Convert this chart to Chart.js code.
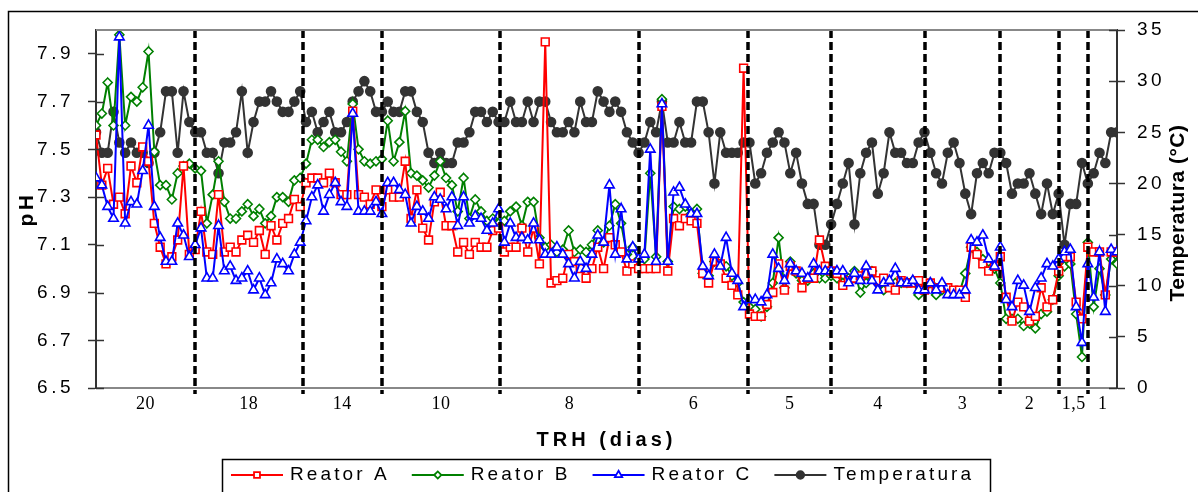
<!DOCTYPE html>
<html>
<head>
<meta charset="utf-8">
<script src="https://cdn.jsdelivr.net/npm/chart.js@4.4.1/dist/chart.umd.min.js"></script>
<style>
  html, body { margin: 0; padding: 0; background: #fff; }
  #wrap { width: 1198px; height: 492px; position: relative; overflow: hidden; }
</style>
</head>
<body>
<div id="wrap"><canvas id="phChart" width="1198" height="492"></canvas></div>
<script>
// TRH sections (dias) and the sample index where each one ends
const sectionLabels = ["20", "18", "14", "10", "8", "6", "5", "4", "3", "2", "1,5", "1"];
const sectionBounds = [17, 35.4, 49, 69.3, 93, 111.8, 126, 142.1, 154.9, 165.1, 170.1];

const phTicks = [6.5, 6.7, 6.9, 7.1, 7.3, 7.5, 7.7, 7.9];
const tempTicks = [0, 5, 10, 15, 20, 25, 30, 35];

const reatorA = [
  7.56,7.35,7.42,7.27,7.30,7.23,7.43,7.36,7.51,7.45,
  7.19,7.09,7.02,7.05,7.12,7.43,7.06,7.08,7.24,7.07,
  7.06,7.31,7.07,7.09,7.07,7.12,7.14,7.11,7.16,7.06,
  7.18,7.12,7.19,7.21,7.29,7.26,7.36,7.38,7.38,7.36,
  7.40,7.36,7.31,7.31,7.66,7.31,7.30,7.27,7.33,7.26,
  7.33,7.30,7.30,7.45,7.21,7.33,7.17,7.12,7.28,7.32,
  7.18,7.18,7.07,7.11,7.06,7.11,7.09,7.09,7.16,7.17,
  7.07,7.09,7.09,7.17,7.07,7.17,7.02,7.95,6.94,6.95,
  6.96,7.06,7.03,7.00,6.96,7.00,7.09,7.00,7.13,7.10,
  7.07,6.99,7.02,7.00,7.00,7.00,7.00,7.68,6.99,7.21,
  7.18,7.21,7.20,7.19,6.98,6.94,7.03,7.02,6.96,6.93,
  6.89,7.84,6.81,6.80,6.80,6.85,6.90,7.02,6.91,7.01,
  6.99,6.92,6.96,6.96,7.12,7.01,6.99,6.98,6.93,6.95,
  6.96,6.97,6.98,6.99,6.95,6.96,6.92,6.91,6.95,6.94,
  6.94,6.95,6.91,6.94,6.92,6.92,6.92,6.91,6.91,6.88,
  7.09,7.06,7.02,6.99,7.01,7.05,6.88,6.78,6.86,6.84,
  6.78,6.80,6.92,6.84,6.87,6.99,7.05,7.05,6.86,6.79,
  7.09,7.07,7.07,6.89,7.07,7.07
];
const reatorB = [
  7.60,7.65,7.78,7.60,7.98,7.60,7.72,7.70,7.76,7.91,
  7.49,7.35,7.35,7.29,7.40,7.43,7.44,7.42,7.41,7.19,
  7.31,7.45,7.28,7.21,7.21,7.24,7.27,7.22,7.25,7.19,
  7.22,7.30,7.30,7.28,7.37,7.38,7.44,7.54,7.54,7.51,
  7.53,7.54,7.49,7.45,7.69,7.50,7.45,7.44,7.45,7.46,
  7.62,7.45,7.53,7.66,7.40,7.39,7.37,7.34,7.39,7.45,
  7.38,7.35,7.24,7.38,7.21,7.29,7.24,7.20,7.21,7.19,
  7.20,7.24,7.26,7.18,7.28,7.28,7.13,7.09,7.10,7.07,
  7.08,7.16,7.07,7.08,7.07,7.10,7.16,7.11,7.18,7.27,
  7.19,7.06,7.09,7.04,7.04,7.40,7.05,7.71,7.03,7.26,
  7.25,7.26,7.23,7.25,6.98,6.97,7.03,7.02,7.01,6.97,
  6.94,6.86,6.84,6.83,6.80,6.84,6.94,7.13,6.92,7.03,
  6.98,6.95,6.95,6.98,6.96,6.96,6.97,6.96,6.94,6.96,
  6.99,6.90,6.94,6.99,6.94,6.91,6.93,6.94,6.94,6.94,
  6.95,6.89,6.92,6.94,6.89,6.91,6.91,6.90,6.90,6.98,
  7.09,7.07,7.04,7.03,7.00,6.94,6.79,6.79,6.79,6.76,
  6.77,6.75,6.81,6.82,6.87,6.97,7.01,7.02,6.81,6.63,
  7.11,6.84,7.00,6.89,7.04,7.02
];
const reatorC = [
  7.38,7.35,7.26,7.21,7.97,7.19,7.28,7.27,7.41,7.60,
  7.26,7.13,7.03,7.03,7.19,7.14,7.05,7.10,7.17,6.96,
  6.96,7.18,6.99,7.01,6.95,6.96,6.99,6.91,6.96,6.89,
  6.94,7.04,7.02,6.99,7.06,7.11,7.20,7.30,7.35,7.24,
  7.31,7.36,7.28,7.26,7.65,7.24,7.24,7.24,7.28,7.23,
  7.36,7.36,7.33,7.31,7.19,7.26,7.24,7.21,7.30,7.29,
  7.25,7.30,7.18,7.30,7.19,7.22,7.21,7.16,7.19,7.25,
  7.11,7.19,7.13,7.13,7.12,7.19,7.12,7.06,7.06,7.09,
  7.06,7.02,6.96,7.03,7.00,7.06,7.14,7.11,7.35,7.06,
  7.25,7.04,7.09,7.04,7.06,7.50,7.03,7.69,7.03,7.32,
  7.34,7.27,7.23,7.23,7.01,6.97,7.06,7.01,7.13,6.98,
  6.95,6.84,6.87,6.87,6.86,6.89,7.06,7.00,6.95,7.02,
  6.99,6.98,6.96,7.02,6.99,6.99,6.99,6.99,6.99,6.94,
  6.98,6.95,7.01,6.95,6.91,6.94,6.95,7.00,6.94,6.94,
  6.95,6.91,6.91,6.94,6.91,6.94,6.89,6.89,6.89,6.91,
  7.12,7.11,7.14,7.04,7.01,7.09,6.87,6.84,6.95,6.93,
  6.82,6.92,6.96,7.02,7.01,7.04,7.07,7.08,6.84,6.69,
  7.02,6.88,7.07,6.82,7.08,7.07
];
const temperatura = [
  25,23,23,27,24,23,24,23,23,22,
  23,25,29,29,23,29,26,25,25,23,
  23,21,24,24,25,29,23,26,28,28,
  29,28,27,27,28,29,26,27,25,26,
  27,25,25,26,28,29,30,29,27,27,
  28,27,27,29,29,27,26,23,22,23,
  22,22,24,24,25,27,27,26,27,26,
  26,28,26,26,28,26,28,28,26,25,
  25,26,25,28,26,26,29,28,27,28,
  27,25,24,23,24,26,25,28,24,24,
  26,24,24,28,28,25,20,25,23,23,
  23,24,24,20,21,23,24,25,24,21,
  23,20,18,18,14,14,16,18,20,22,
  16,21,23,24,19,21,25,23,23,22,
  22,24,25,23,21,20,23,24,22,19,
  17,21,22,21,23,23,22,19,20,20,
  21,19,17,20,17,19,14,18,18,22,
  20,21,23,22,25,25
];

const lastIndex = reatorA.length - 1;
const edges = [0, ...sectionBounds, lastIndex];
const sectionMids = sectionLabels.map((_, i) => (edges[i] + edges[i + 1]) / 2);

const FONT = "'Liberation Sans', Arial, sans-serif";
const SERIF = "'Liberation Serif', 'Times New Roman', serif";

const series = [
  { label: "Reator A", data: reatorA, color: "#ff0000", style: "rect", r: 5.5, lr: 4.2, axis: "y", order: 1, fill: "#ffffff" },
  { label: "Reator B", data: reatorB, color: "#008000", style: "rectRot", r: 4.5, lr: 3.6, axis: "y", order: 2, fill: "#ffffff" },
  { label: "Reator C", data: reatorC, color: "#0000ff", style: "triangle", r: 5.5, lr: 4.2, axis: "y", order: 0, fill: "#ffffff" },
  { label: "Temperatura", data: temperatura, color: "#333333", style: "circle", r: 4.5, lr: 3.8, axis: "y2", order: 3, fill: "#333333" }
];

const toPoints = arr => arr.map((v, i) => ({ x: i, y: v }));

const decor = {
  id: "decor",
  beforeDraw(chart) {
    chart.ctx.letterSpacing = "3.5px";
  },
  afterDatasetsDraw(chart) {
    const { ctx, chartArea: a, scales: { x } } = chart;
    ctx.save();
    ctx.strokeStyle = "#000";
    ctx.lineWidth = 3.5;
    ctx.setLineDash([8, 4]);
    sectionBounds.forEach(b => {
      const px = Math.round(x.getPixelForValue(b));
      ctx.beginPath();
      ctx.moveTo(px, a.top);
      ctx.lineTo(px, a.bottom + 6);
      ctx.stroke();
    });
    ctx.restore();
  },
  afterDraw(chart) {
    const { ctx, chartArea: a, scales: { x, y, y2 } } = chart;
    ctx.save();

    // top border of plot
    ctx.strokeStyle = "#888";
    ctx.lineWidth = 2;
    ctx.beginPath();
    ctx.moveTo(a.left, a.top);
    ctx.lineTo(a.right, a.top);
    ctx.stroke();

    // inner half of the tick marks
    ctx.strokeStyle = "#333";
    ctx.lineWidth = 1.5;
    phTicks.forEach(t => {
      const py = Math.round(y.getPixelForValue(t)) + 0.5;
      ctx.beginPath(); ctx.moveTo(a.left, py); ctx.lineTo(a.left + 8, py); ctx.stroke();
    });
    tempTicks.forEach(t => {
      const py = Math.round(y2.getPixelForValue(t)) + 0.5;
      ctx.beginPath(); ctx.moveTo(a.right - 8, py); ctx.lineTo(a.right, py); ctx.stroke();
    });

    // outer frame
    ctx.strokeStyle = "#000";
    ctx.lineWidth = 1.5;
    ctx.beginPath();
    ctx.moveTo(8.5, chart.height + 2);
    ctx.lineTo(8.5, 11.5);
    ctx.lineTo(chart.width + 2, 11.5);
    ctx.stroke();

    // x category labels (serif)
    ctx.letterSpacing = "0.5px";
    ctx.fillStyle = "#000";
    ctx.font = "18px " + SERIF;
    ctx.textAlign = "center";
    ctx.textBaseline = "middle";
    sectionLabels.forEach((lab, i) => {
      ctx.fillText(lab, x.getPixelForValue(sectionMids[i]), a.bottom + 16);
    });

    // x title
    ctx.letterSpacing = "4px";
    ctx.font = "bold 20px " + FONT;
    ctx.fillText("TRH (dias)", (a.left + a.right) / 2, 440);

    // right title, reading upwards
    ctx.letterSpacing = "0.5px";
    ctx.save();
    ctx.translate(1178, (a.top + a.bottom) / 2 + 4);
    ctx.rotate(-Math.PI / 2);
    ctx.font = "bold 21px " + FONT;
    ctx.fillText("Temperatura (°C)", 0, 0);
    ctx.restore();

    // legend
    const boxL = 222.5, boxT = 459.5, boxR = 990.5;
    ctx.strokeStyle = "#000";
    ctx.lineWidth = 1.5;
    ctx.strokeRect(boxL, boxT, boxR - boxL, 60);
    ctx.letterSpacing = "3.1px";
    ctx.font = "19px " + FONT;
    ctx.textAlign = "left";
    const ly = 475;
    let cx = 231;
    series.forEach(s => {
      ctx.strokeStyle = s.color;
      ctx.lineWidth = 1.8;
      ctx.beginPath(); ctx.moveTo(cx, ly); ctx.lineTo(cx + 52, ly); ctx.stroke();
      ctx.fillStyle = s.fill;
      Chart.helpers.drawPoint(ctx, { pointStyle: s.style, radius: s.lr, rotation: 0, borderWidth: 1.6 }, cx + 26, ly);
      ctx.fillStyle = "#000";
      ctx.fillText(s.label, cx + 59, ly);
      cx += 59 + ctx.measureText(s.label).width + 22;
    });

    ctx.restore();
  }
};

const datasets = series.map(s => ({
  label: s.label,
  data: toPoints(s.data),
  yAxisID: s.axis,
  order: s.order,
  borderColor: s.color,
  borderWidth: 2,
  tension: 0,
  pointStyle: s.style,
  pointRadius: s.r,
  pointBorderWidth: 1.6,
  pointBorderColor: s.color,
  pointBackgroundColor: s.fill
}));

new Chart(document.getElementById("phChart").getContext("2d"), {
  type: "line",
  data: { datasets: datasets },
  options: {
    responsive: false,
    animation: false,
    events: [],
    layout: { padding: { top: 30, left: 0, right: 0, bottom: 0 } },
    plugins: { legend: { display: false }, tooltip: { enabled: false } },
    scales: {
      x: {
        type: "linear",
        min: 0,
        max: lastIndex,
        ticks: { display: false },
        grid: { display: false, drawTicks: false },
        border: { color: "#888", width: 2 },
        afterFit(s) { s.height = 104; }
      },
      y: {
        position: "left",
        min: 6.5,
        max: 8.0,
        afterBuildTicks(s) { s.ticks = phTicks.map(v => ({ value: v })); },
        ticks: { callback: v => v.toFixed(1), color: "#000", font: { family: FONT, size: 19 }, padding: 14 },
        grid: { drawOnChartArea: false, tickLength: 8, tickColor: "#333", tickWidth: 1.5 },
        border: { color: "#333", width: 2 },
        title: { display: true, text: "pH", color: "#000", font: { family: FONT, size: 21, weight: "bold" }, padding: { top: 15, bottom: 0 } },
        afterFit(s) { s.width = 96; }
      },
      y2: {
        position: "right",
        min: 0,
        max: 35,
        afterBuildTicks(s) { s.ticks = tempTicks.map(v => ({ value: v })); },
        ticks: { callback: v => String(v), color: "#000", font: { family: FONT, size: 19 }, padding: 12 },
        grid: { drawOnChartArea: false, tickLength: 8, tickColor: "#333", tickWidth: 1.5 },
        border: { color: "#333", width: 2 },
        afterFit(s) { s.width = 81; }
      }
    }
  },
  plugins: [decor]
});
</script>
</body>
</html>
